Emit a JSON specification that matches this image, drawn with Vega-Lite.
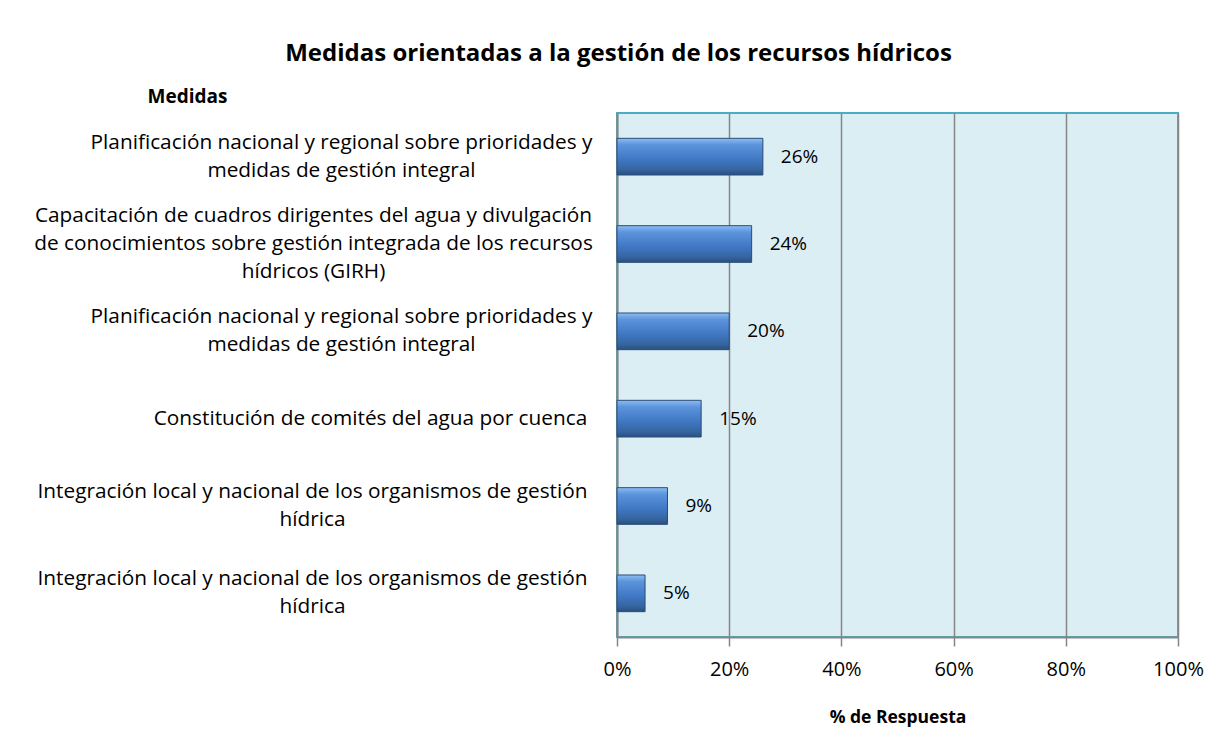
{
  "$schema": "https://vega.github.io/schema/vega-lite/v6.json",
  "autosize": "none",
  "width": 561,
  "height": 524,
  "padding": {"left": 617, "top": 113, "right": 36, "bottom": 94},
  "background": "white",
  "title": {
    "text": "Medidas orientadas a la gestión de los recursos hídricos",
    "font": "Open Sans",
    "fontSize": 24,
    "fontWeight": "bold",
    "color": "#000000",
    "anchor": "middle",
    "frame": "bounds",
    "offset": 21
  },
  "data": {
    "values": [
      {"medida": "1|Planificación nacional y regional sobre prioridades y|medidas de gestión integral", "pct": 0.26},
      {"medida": "2|Capacitación de cuadros dirigentes del agua y divulgación|de conocimientos sobre gestión integrada de los recursos|hídricos (GIRH)", "pct": 0.24},
      {"medida": "3|Planificación nacional y regional sobre prioridades y|medidas de gestión integral", "pct": 0.20},
      {"medida": "4|Constitución de comités del agua por cuenca", "pct": 0.15},
      {"medida": "5|Integración local y nacional de los organismos de gestión|hídrica", "pct": 0.09},
      {"medida": "6|Integración local y nacional de los organismos de gestión|hídrica", "pct": 0.05}
    ]
  },
  "encoding": {
    "y": {
      "field": "medida",
      "type": "nominal",
      "sort": null,
      "scale": {"paddingInner": 0.58, "paddingOuter": 0.29},
      "axis": {
        "title": "Medidas",
        "titleFont": "Open Sans",
        "titleFontSize": 19,
        "titleFontWeight": "bold",
        "titleColor": "#000000",
        "titleAngle": 0,
        "titleAlign": "center",
        "titleBaseline": "middle",
        "titleX": -430,
        "titleY": -17,
        "labelExpr": "slice(split(datum.label, '|'), 1)",
        "labelFont": "Open Sans",
        "labelFontSize": 20.8,
        "labelColor": "#000000",
        "labelLineHeight": 28,
        "labelAlign": "center",
        "labelBaseline": "middle",
        "labelPadding": {
          "condition": [
            {"test": "slice(datum.value, 0, 1) == '1' || slice(datum.value, 0, 1) == '3'", "value": 276},
            {"test": "slice(datum.value, 0, 1) == '2'", "value": 304},
            {"test": "slice(datum.value, 0, 1) == '4'", "value": 247}
          ],
          "value": 305
        },
        "labelOffset": {
          "condition": [
            {"test": "slice(datum.value, 0, 1) == '2'", "value": -28},
            {"test": "slice(datum.value, 0, 1) == '4'", "value": 0}
          ],
          "value": -14
        },
        "labelLimit": 700,
        "ticks": false,
        "domainColor": "#868686",
        "domainWidth": 2,
        "grid": false
      }
    },
    "x": {
      "field": "pct",
      "type": "quantitative",
      "scale": {"domain": [0, 1], "nice": false},
      "axis": {
        "title": "% de Respuesta",
        "titleFont": "Open Sans",
        "titleFontSize": 17.5,
        "titleFontWeight": "bold",
        "titleColor": "#000000",
        "titlePadding": 29,
        "format": ".0%",
        "values": [0, 0.2, 0.4, 0.6, 0.8, 1],
        "labelFont": "Open Sans",
        "labelFontSize": 20,
        "labelColor": "#000000",
        "labelPadding": 13,
        "labelFlush": false,
        "tickColor": "#868686",
        "tickSize": 9,
        "tickWidth": 1.5,
        "domainColor": "#868686",
        "domainWidth": 2,
        "grid": true,
        "gridColor": "#868686",
        "gridWidth": 1.5
      }
    }
  },
  "layer": [
    {
      "mark": {
        "type": "bar",
        "color": {
          "gradient": "linear",
          "x1": 0, "y1": 0, "x2": 0, "y2": 1,
          "stops": [
            {"offset": 0, "color": "#8dbdf2"},
            {"offset": 0.18, "color": "#5b93dc"},
            {"offset": 0.6, "color": "#3f76c2"},
            {"offset": 0.85, "color": "#36659f"},
            {"offset": 1, "color": "#2a4f80"}
          ]
        },
        "stroke": "#2b4c78",
        "strokeWidth": 1
      }
    },
    {
      "mark": {
        "type": "text",
        "align": "left",
        "baseline": "middle",
        "dx": 18,
        "font": "Open Sans",
        "fontSize": 19,
        "color": "#000000"
      },
      "encoding": {
        "text": {"field": "pct", "type": "quantitative", "format": ".0%"}
      }
    }
  ],
  "config": {
    "view": {"fill": "#dbeef4", "stroke": "#4bacc6", "strokeWidth": 2}
  }
}
